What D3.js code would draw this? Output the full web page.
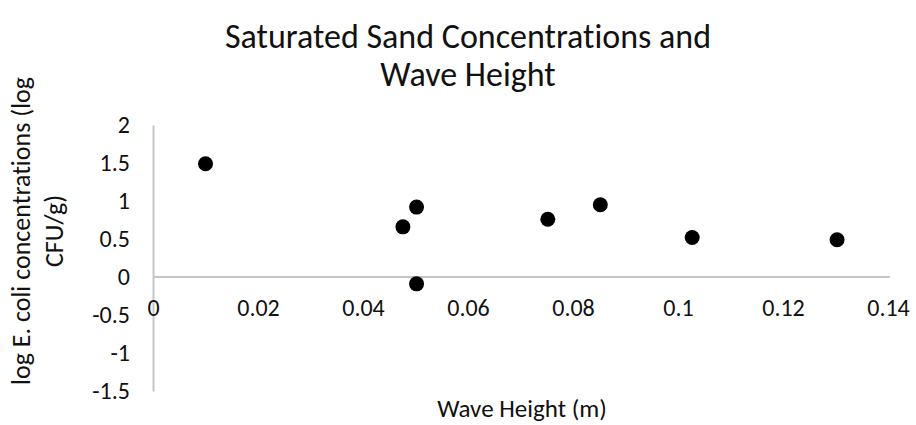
<!DOCTYPE html>
<html>
<head>
<meta charset="utf-8">
<script src="https://cdn.jsdelivr.net/npm/d3@7"></script>
<style>
  html, body { margin: 0; padding: 0; background: #fff; }
  svg { display: block; font-family: Carlito, "Open Sans", sans-serif; }
  svg text { font-variant-ligatures: none; font-feature-settings: "liga" 0, "clig" 0; }
</style>
</head>
<body>
<svg id="chart" width="916" height="425"></svg>
<script>
const waveHeight = [0.010, 0.0502, 0.0476, 0.0502, 0.0752, 0.0852, 0.1027, 0.1303];
const logEcoli   = [1.49, 0.92, 0.66, -0.09, 0.76, 0.95, 0.52, 0.49];
const xTicks = [0, 0.02, 0.04, 0.06, 0.08, 0.1, 0.12, 0.14];
const yTicks = [-1.5, -1, -0.5, 0, 0.5, 1, 1.5, 2];
const titleLines = ["Saturated Sand Concentrations and", "Wave Height"];
const yTitleLines = ["log E. coli concentrations (log", "CFU/g)"];
const xTitle = "Wave Height (m)";

const svg = d3.select("#chart");
const x = d3.scaleLinear().domain([0, 0.14]).range([153, 888]);
const y = d3.scaleLinear().domain([-1.5, 2]).range([391, 125]);
const axisColor = "#c6c6c6";
const textColor = "#111";
const font = 'Carlito, "Open Sans", sans-serif';

// Title
svg.append("g").selectAll("text").data(titleLines).join("text")
  .attr("x", 468).attr("y", (d, i) => 48 + i * 38)
  .attr("text-anchor", "middle").attr("font-size", 34).attr("fill", textColor)
  .text(d => d);

// Y axis
const yAxis = d3.axisLeft(y).tickValues(yTicks).tickSize(0).tickPadding(23)
  .tickFormat(d => String(d));
const gy = svg.append("g").attr("transform", `translate(${x(0)},0)`).call(yAxis);
gy.select(".domain").attr("stroke", axisColor).attr("stroke-width", 2);
gy.selectAll("text").attr("font-size", 24).attr("fill", textColor)
  .attr("font-family", font);

// X axis at y = 0
const xAxis = d3.axisBottom(x).tickValues(xTicks).tickSize(0).tickPadding(22)
  .tickFormat(d => String(d));
const gx = svg.append("g").attr("transform", `translate(0,${y(0)})`).call(xAxis);
gx.select(".domain").attr("stroke", axisColor).attr("stroke-width", 2)
  .attr("d", `M${x(0)},0H${x(0.14) + 2}`);
gx.selectAll("text").attr("font-size", 24).attr("fill", textColor)
  .attr("font-family", font);

// Points
svg.append("g").selectAll("circle").data(waveHeight).join("circle")
  .attr("cx", d => x(d)).attr("cy", (d, i) => y(logEcoli[i]))
  .attr("r", 7.5).attr("fill", "#000");

// X title
svg.append("text").attr("x", 522).attr("y", 417)
  .attr("text-anchor", "middle").attr("font-size", 25).attr("fill", textColor)
  .text(xTitle);

// Y title
svg.append("g").selectAll("text").data(yTitleLines).join("text")
  .attr("transform", (d, i) => `translate(${30 + i * 33},231) rotate(-90)`)
  .attr("text-anchor", "middle").attr("font-size", 26).attr("fill", textColor)
  .text(d => d);
</script>
</body>
</html>
